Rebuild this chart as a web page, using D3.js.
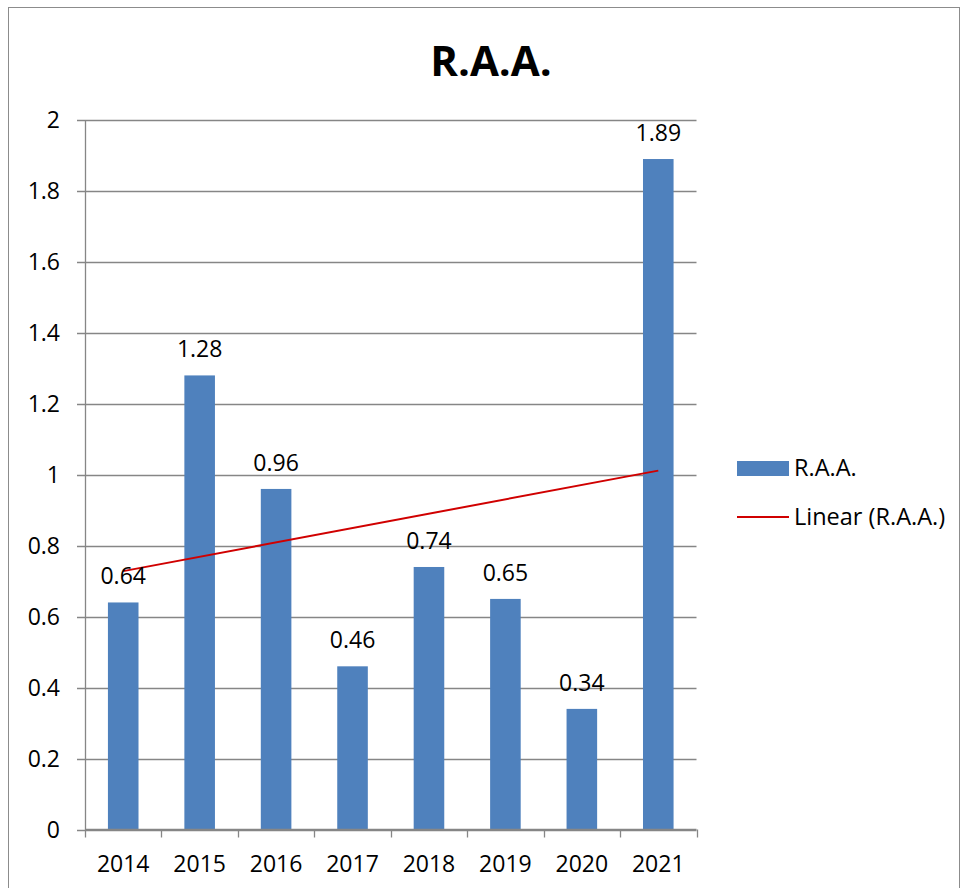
<!DOCTYPE html>
<meta charset="utf-8">
<script src="https://d3js.org/d3.v7.min.js"></script>
<style>
    body { margin: 0; background: #fff; }
    text { font-family: "Open Sans", "Noto Sans", sans-serif; fill: #000; }
</style>
<div id="vis"></div>
<script>
    // data
    var years = ["2014", "2015", "2016", "2017", "2018", "2019", "2020", "2021"];
    var raa = [0.64, 1.28, 0.96, 0.46, 0.74, 0.65, 0.34, 1.89];
    var yTicks = [0, 0.2, 0.4, 0.6, 0.8, 1, 1.2, 1.4, 1.6, 1.8, 2];

    var W = 961, H = 888;
    var mgn = { top: 120, lft: 85, rgt: 265, btm: 59 };
    var wid = W - mgn.lft - mgn.rgt + 0.5,
        hgt = H - mgn.top - mgn.btm + 0.5;

    var svg = d3.select("#vis").append("svg")
        .attr("width", W)
        .attr("height", H);

    // chart border
    svg.append("rect")
        .attr("x", 8.5).attr("y", 7.5)
        .attr("width", 951).attr("height", 900)
        .attr("fill", "none")
        .attr("stroke", "#8c8c8c")
        .attr("stroke-width", 1);

    var g = svg.append("g")
        .attr("transform", "translate(" + mgn.lft + "," + mgn.top + ")");

    var x = d3.scaleBand().domain(years).range([0, wid]).paddingInner(0.6).paddingOuter(0.3);
    var xEdge = d3.scaleLinear().domain([0, years.length]).range([0, wid]);
    var y = d3.scaleLinear().domain([0, 2]).range([hgt, 0]);

    // gridlines
    g.append("g").selectAll("line")
        .data(yTicks)
        .enter().append("line")
        .attr("x1", -8).attr("x2", wid)
        .attr("y1", function (d) { return Math.round(y(d)) + 0.5; })
        .attr("y2", function (d) { return Math.round(y(d)) + 0.5; })
        .attr("stroke", "#868686")
        .attr("stroke-width", 1.3);

    // y axis labels
    g.append("g").selectAll("text")
        .data(yTicks)
        .enter().append("text")
        .attr("x", -25)
        .attr("y", function (d) { return y(d); })
        .attr("dy", "0.35em")
        .attr("text-anchor", "end")
        .style("font-size", "23px")
        .text(function (d) { return d3.format("")(+d.toFixed(1)); });

    // y axis line
    g.append("line")
        .attr("x1", 0.5).attr("x2", 0.5)
        .attr("y1", 0).attr("y2", hgt)
        .attr("stroke", "#868686").attr("stroke-width", 1.3);

    // bars
    g.append("g").selectAll("rect")
        .data(raa)
        .enter().append("rect")
        .attr("x", function (d, i) { return x(years[i]); })
        .attr("width", x.bandwidth())
        .attr("y", function (d) { return y(d); })
        .attr("height", function (d) { return hgt - y(d); })
        .attr("fill", "#4F81BD");

    // x axis line + ticks
    g.append("line")
        .attr("x1", 0).attr("x2", wid)
        .attr("y1", hgt).attr("y2", hgt)
        .attr("stroke", "#868686").attr("stroke-width", 1.3);
    g.append("g").selectAll("line")
        .data(d3.range(years.length + 1))
        .enter().append("line")
        .attr("x1", function (d) { return Math.round(xEdge(d)) + 0.5; })
        .attr("x2", function (d) { return Math.round(xEdge(d)) + 0.5; })
        .attr("y1", hgt).attr("y2", hgt + 8)
        .attr("stroke", "#868686").attr("stroke-width", 1.3);

    // x labels
    g.append("g").selectAll("text")
        .data(years)
        .enter().append("text")
        .attr("x", function (d) { return x(d) + x.bandwidth() / 2; })
        .attr("y", hgt + 42)
        .attr("text-anchor", "middle")
        .style("font-size", "23px")
        .text(function (d) { return d; });

    // linear trend (least squares)
    var n = raa.length;
    var mx = d3.mean(d3.range(1, n + 1)), my = d3.mean(raa);
    var sxy = d3.sum(raa, function (v, i) { return (i + 1 - mx) * (v - my); });
    var sxx = d3.sum(d3.range(1, n + 1), function (k) { return (k - mx) * (k - mx); });
    var slope = sxy / sxx, icpt = my - slope * mx;
    var trend = [1, n].map(function (k) { return { yr: years[k - 1], v: icpt + slope * k }; });

    g.append("path")
        .datum(trend)
        .attr("fill", "none")
        .attr("stroke", "#D00000")
        .attr("stroke-width", 2)
        .attr("d", d3.line()
            .x(function (d) { return x(d.yr) + x.bandwidth() / 2; })
            .y(function (d) { return y(d.v); }));

    // value labels
    g.append("g").selectAll("text")
        .data(raa)
        .enter().append("text")
        .attr("x", function (d, i) { return x(years[i]) + x.bandwidth() / 2; })
        .attr("y", function (d) { return y(d) - 18; })
        .attr("text-anchor", "middle")
        .style("font-size", "23px")
        .text(function (d) { return d; });

    // title
    svg.append("text")
        .attr("x", 491)
        .attr("y", 76)
        .attr("text-anchor", "middle")
        .style("font-size", "42px")
        .style("font-weight", "bold")
        .text("R.A.A.");

    // legend
    var lg = svg.append("g").attr("transform", "translate(737,0)");
    lg.append("rect")
        .attr("x", 0).attr("y", 461)
        .attr("width", 52).attr("height", 15)
        .attr("fill", "#4F81BD");
    lg.append("text")
        .attr("x", 57).attr("y", 468)
        .attr("dy", "0.35em")
        .style("font-size", "23.5px")
        .text("R.A.A.");
    lg.append("line")
        .attr("x1", 0).attr("x2", 52)
        .attr("y1", 517).attr("y2", 517)
        .attr("stroke", "#D00000").attr("stroke-width", 2);
    lg.append("text")
        .attr("x", 57).attr("y", 517)
        .attr("dy", "0.35em")
        .style("font-size", "23.5px")
        .text("Linear (R.A.A.)");
</script>
